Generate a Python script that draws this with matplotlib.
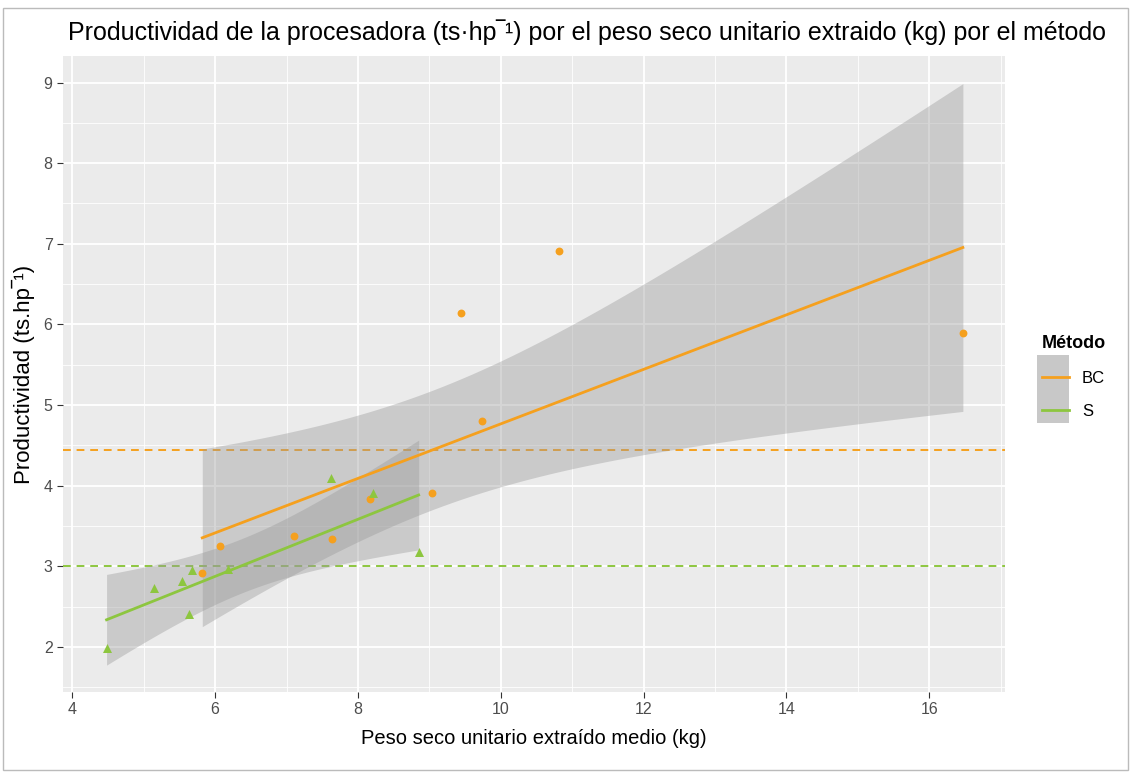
import numpy as np
import matplotlib.pyplot as plt
from matplotlib.lines import Line2D
from matplotlib.patches import Rectangle

# data
bc_x = [5.82, 6.07, 7.10, 7.64, 8.17, 9.04, 9.44, 9.73, 10.81, 16.47]
bc_y = [2.92, 3.25, 3.38, 3.34, 3.84, 3.91, 6.14, 4.80, 6.91, 5.89]
s_x = [4.48, 5.15, 5.54, 5.63, 5.67, 6.18, 7.62, 8.21, 8.85]
s_y = [1.99, 2.73, 2.82, 2.41, 2.95, 2.97, 4.09, 3.91, 3.18]

groups = ['BC', 'S']
colors = {'BC': '#F5A01E', 'S': '#8DC63F'}
t95 = {'BC': 2.306, 'S': 2.365}  # t quantiles, df = n - 2

x_ticks = [4, 6, 8, 10, 12, 14, 16]
y_ticks = [2, 3, 4, 5, 6, 7, 8, 9]

plt.rcParams['font.family'] = ['Liberation Sans', 'DejaVu Sans']

fig = plt.figure(figsize=(11.31, 7.72), dpi=100)
ax = fig.add_axes([0.0557, 0.1036, 0.8329, 0.8239])
ax.set_facecolor('#EBEBEB')
for s in ax.spines.values():
    s.set_visible(False)


def lm_band(x, y, t):
    # straight line fit with 95% confidence band, like geom_smooth(method='lm')
    x = np.asarray(x)
    y = np.asarray(y)
    n = len(x)
    b1, b0 = np.polyfit(x, y, 1)
    resid = y - (b0 + b1 * x)
    sigma = np.sqrt(np.sum(resid ** 2) / (n - 2))
    xs = np.linspace(x.min(), x.max(), 80)
    fit = b0 + b1 * xs
    se = sigma * np.sqrt(1 / n + (xs - x.mean()) ** 2 / np.sum((x - x.mean()) ** 2))
    return xs, fit, fit - t * se, fit + t * se


data = {'BC': (bc_x, bc_y), 'S': (s_x, s_y)}

for g in groups:
    x, y = data[g]
    ax.axhline(np.mean(y), color=colors[g], lw=1.4, ls=(0, (4, 3)), zorder=2)

for g in groups:
    x, y = data[g]
    xs, fit, lo, hi = lm_band(x, y, t95[g])
    ax.fill_between(xs, lo, hi, color='#999999', alpha=0.4, lw=0, zorder=3)
    ax.plot(xs, fit, color=colors[g], lw=2, zorder=4)

ax.scatter(bc_x, bc_y, marker='o', s=32, color=colors['BC'], lw=0, zorder=5)
ax.scatter(s_x, s_y, marker='^', s=42, color=colors['S'], lw=0, zorder=5)

ax.set_xlim(3.87, 17.06)
ax.set_ylim(1.44, 9.33)
ax.set_xticks(x_ticks)
ax.set_yticks(y_ticks)
ax.set_xticks(np.arange(5, 18, 2), minor=True)
ax.set_yticks(np.arange(1.5, 9.5, 1), minor=True)
ax.grid(which='major', color='white', lw=1.3)
ax.grid(which='minor', color='white', lw=0.6)
ax.set_axisbelow(True)
ax.tick_params(which='major', length=4, color='#333333', labelsize=11.5, labelcolor='#4D4D4D')
ax.tick_params(which='minor', length=0)

ax.set_xlabel('Peso seco unitario extraído medio (kg)', fontsize=14.5, labelpad=8)
ax.set_ylabel('Productividad (ts.hp\u203e\u00b9)', fontsize=16, labelpad=6)
fig.text(0.519, 0.958, 'Productividad de la procesadora (ts\u00b7hp\u203e\u00b9) por el peso seco unitario extraido (kg) por el método',
         ha='center', va='center', fontsize=18)

handles = [Line2D([0], [0], color=colors[g], lw=2) for g in groups]
leg = fig.legend(handles, groups, title='Método', loc='upper left',
                 bbox_to_anchor=(0.908, 0.585), frameon=False, fontsize=12,
                 title_fontsize=13, handlelength=1.6, labelspacing=1.1,
                 alignment='left')
leg.get_title().set_fontweight('bold')
fig.patches.append(Rectangle((0.917, 0.452), 0.028, 0.088, transform=fig.transFigure,
                             facecolor='#C8C8C8', edgecolor='none', zorder=0))

fig.patches.append(Rectangle((0.003, 0.002), 0.994, 0.987, transform=fig.transFigure,
                             fill=False, edgecolor='#BBBBBB', lw=1))

fig.savefig('out.png', dpi=100)
